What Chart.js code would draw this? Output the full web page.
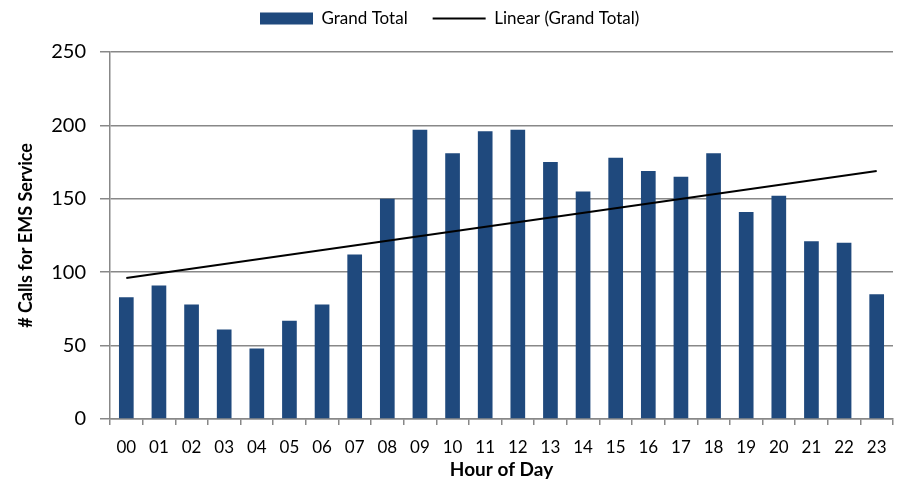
<!DOCTYPE html>
<html>
<head>
<meta charset="utf-8">
<script src="https://cdn.jsdelivr.net/npm/chart.js@4"></script>
<style>
  body { margin: 0; background: #fff; }
  #wrap { width: 900px; height: 486px; position: relative; }
</style>
</head>
<body>
<div id="wrap"><canvas id="myChart"></canvas></div>
<script>
const hours = ['00', '01', '02', '03', '04', '05', '06', '07', '08', '09', '10', '11',
               '12', '13', '14', '15', '16', '17', '18', '19', '20', '21', '22', '23'];
const calls = [83, 91, 78, 61, 48, 67, 78, 112, 150, 197, 181, 196,
               197, 175, 155, 178, 169, 165, 181, 141, 152, 121, 120, 85];
// trendline end points (first hour, last hour)
const trendEnds = [96, 169];
const yTicks = [0, 50, 100, 150, 200, 250];

const trend = hours.map(function (h, i) {
    if (i === 0) return trendEnds[0];
    if (i === hours.length - 1) return trendEnds[1];
    return null;
});

const gridColor = '#888888';
Chart.defaults.font.family = 'Lato, "Open Sans", sans-serif';
Chart.defaults.color = '#000';

// the legend in the original sits left of centre, move it after layout
const legendPlace = {
    id: 'legendPlace',
    afterLayout: function (chart) {
        const lg = chart.legend;
        const pad = lg.options.labels.padding;
        lg.left = 260 - pad;
        lg.top = 10 - pad;
    }
};

const data = {
    labels: hours,
    datasets: [
        {
            label: 'Grand Total',
            data: calls,
            backgroundColor: '#1F497D',
            borderWidth: 0,
            barPercentage: 0.45,
            categoryPercentage: 1,
            pointStyle: 'rect',
            order: 1
        },
        {
            type: 'line',
            label: 'Linear (Grand Total)',
            data: trend,
            borderColor: '#000',
            backgroundColor: '#000',
            borderWidth: 2,
            pointRadius: 0,
            spanGaps: true,
            pointStyle: 'line',
            order: 0
        }
    ]
};

const config = {
    type: 'bar',
    data: data,
    plugins: [legendPlace],
    options: {
        responsive: true,
        maintainAspectRatio: false,
        animation: false,
        layout: {
            padding: { left: 0, right: 7, top: 0, bottom: 0 }
        },
        plugins: {
            tooltip: { enabled: false },
            legend: {
                position: 'top',
                align: 'start',
                labels: {
                    usePointStyle: true,
                    pointStyleWidth: 53,
                    boxHeight: 12,
                    padding: 25,
                    font: { size: 17 },
                    sort: function (a, b) { return a.datasetIndex - b.datasetIndex; }
                }
            }
        },
        scales: {
            x: {
                offset: true,
                grid: {
                    display: true,
                    drawOnChartArea: false,
                    offset: true,
                    color: gridColor,
                    lineWidth: 1.5,
                    tickLength: 6
                },
                border: { color: gridColor, width: 1.5 },
                ticks: {
                    font: { size: 17 },
                    padding: 12,
                    maxRotation: 0,
                    autoSkip: false
                },
                title: {
                    display: true,
                    text: 'Hour of Day',
                    font: { size: 19, weight: 'bold' },
                    padding: { top: 0, bottom: 5 }
                },
                afterFit: function (scale) { scale.height = 67; }
            },
            y: {
                min: 0,
                max: 250,
                afterBuildTicks: function (scale) {
                    scale.ticks = yTicks.map(function (v) { return { value: v }; });
                },
                grid: {
                    color: gridColor,
                    lineWidth: 1.5,
                    tickLength: 10
                },
                border: { color: gridColor, width: 1.5 },
                ticks: {
                    font: { size: 20 },
                    padding: 14
                },
                title: {
                    display: true,
                    text: '# Calls for EMS Service',
                    font: { size: 18, weight: 'bold' },
                    padding: { top: 15, bottom: 0 }
                },
                afterFit: function (scale) { scale.width = 110; }
            }
        }
    }
};

window.myChart = new Chart(document.getElementById('myChart'), config);
</script>
</body>
</html>
